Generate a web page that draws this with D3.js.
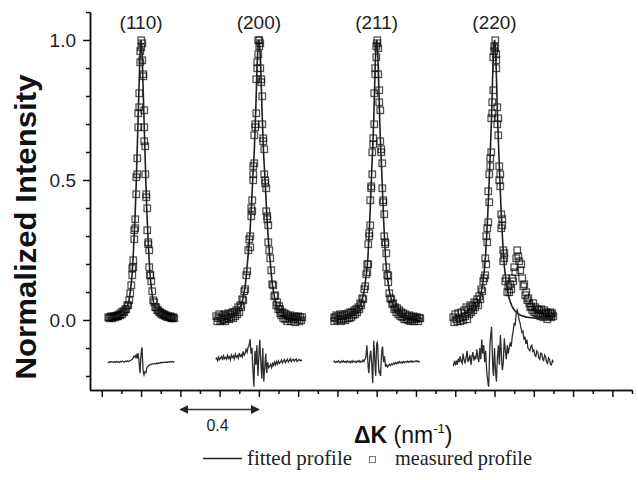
<!DOCTYPE html>
<html>
<head>
<meta charset="utf-8">
<script src="https://cdnjs.cloudflare.com/ajax/libs/d3/7.8.5/d3.min.js"></script>
<style>
body {margin:0; background:#fff;}
svg {display:block;}
</style>
</head>
<body>
<svg id="profiles"></svg>
<script>
var peakLabels = ["(110)","(200)","(211)","(220)"]
var peakCenters = [0.2, 0.8, 1.4, 2.0]

var yMajorTicks = [0, 0.5, 1.0]
var yMinorTicks = [-0.2,-0.1,0.1,0.2,0.3,0.4,0.6,0.7,0.8,0.9,1.1]
var xMajorTicks = [0,0.2,0.4,0.6,0.8,1.0,1.2,1.4,1.6,1.8,2.0,2.2,2.4,2.6]
var xMinorTicks = [0.1,0.3,0.5,0.7,0.9,1.1,1.3,1.5,1.7,1.9,2.1,2.3,2.5,2.7]

var scaleBar = [0.4, 0.8]

// offsets from each peak centre (nm^-1)
var dkCentre = [-0.05,-0.0475,-0.045,-0.0425,-0.04,-0.0375,-0.035,-0.0325,-0.03,-0.0275,-0.025,-0.0225,-0.02,-0.0175,
    -0.015,-0.0125,-0.01,-0.0075,-0.005,-0.0025,0,0.0025,0.005,0.0075,0.01,0.0125,0.015,0.0175,0.02,0.0225,0.025,
    0.0275,0.03,0.0325,0.035,0.0375,0.04,0.0425,0.045,0.0475,0.05]
var dkA = [-0.17,-0.165,-0.16,-0.155,-0.15,-0.145,-0.14,-0.135,-0.13,-0.125,-0.12,-0.115,-0.11,-0.105,-0.10,-0.095,
    -0.09,-0.085,-0.08,-0.075,-0.07,-0.065,-0.06,-0.055]
    .concat(dkCentre)
    .concat([0.055,0.06,0.065,0.07,0.075,0.08,0.085,0.09,0.095,0.10,0.105,0.11,0.115,0.12,0.125,0.13,0.135,0.14,0.145,0.15,
    0.155,0.16,0.165,0.17])
var dkB = [-0.22,-0.215,-0.21,-0.205,-0.20,-0.195,-0.19,-0.185,-0.18,-0.175,-0.17,-0.165,-0.16,-0.155,-0.15,-0.145,
    -0.14,-0.135,-0.13,-0.125,-0.12,-0.115,-0.11,-0.105,-0.10,-0.095,-0.09,-0.085,-0.08,-0.075,-0.07,-0.065,-0.06,-0.055]
    .concat(dkCentre)
    .concat([0.055,0.06,0.065,0.07,0.075,0.08,0.085,0.09,0.095,0.10,0.105,0.11,0.115,0.12,0.125,0.13,0.135,0.14,0.145,0.15,
    0.155,0.16,0.165,0.17,0.175,0.18,0.185,0.19,0.195,0.20,0.205,0.21,0.215,0.22])
var dkC = [-0.21,-0.205,-0.20,-0.195,-0.19,-0.185,-0.18,-0.175,-0.17,-0.165,-0.16,-0.155,-0.15,-0.145,-0.14,-0.135,
    -0.13,-0.125,-0.12,-0.115,-0.11,-0.105,-0.10,-0.095,-0.09,-0.085,-0.08,-0.075,-0.07,-0.065,-0.06,-0.055]
    .concat(dkCentre)
    .concat([0.055,0.06,0.065,0.07,0.075,0.08,0.085,0.09,0.095,0.10,0.105,0.11,0.115,0.12,0.125,0.13,0.135,0.14,0.145,0.15,
    0.155,0.16,0.165,0.17,
    0.175,0.18,0.185,0.19,0.195,0.20,0.205,0.21,0.215,0.22,0.225,0.23,0.235,0.24,0.245,0.25,0.255,0.26,0.265,0.27,
    0.275,0.28,0.285,0.29,0.295,0.30])

var meas110 = [.011,.006,.010,.013,.008,.012,.014,.010,.016,.013,.018,.015,.022,.019,.027,.023,.033,.029,.040,.038,.052,.055,.072,.095,
    .125,.160,.185,.190,.215,.290,.320,.330,.360,.450,.510,.520,.580,.690,.740,.760,.810,.920,.960,.975,1.0,
    .990,.930,.880,.870,.750,.690,.640,.620,.520,.450,.440,.400,.320,.280,.270,.250,.190,.160,.160,.140,
    .105,.070,.063,.047,.045,.034,.036,.027,.028,.021,.024,.017,.020,.014,.017,.011,.015,.010,.013,.008,.012,.007,.010,.006]
var fit110 = [.008,.008,.009,.010,.010,.011,.012,.013,.014,.015,.016,.018,.020,.022,.024,.026,.029,.033,.037,.043,.050,.060,.075,.10,
    .13,.15,.17,.20,.23,.265,.30,.34,.38,.43,.48,.54,.60,.66,.72,.78,.84,.90,.95,.985,1.0,
    .985,.95,.90,.84,.78,.72,.66,.60,.54,.48,.43,.38,.34,.30,.265,.23,.20,.17,.15,.13,
    .10,.075,.060,.050,.043,.037,.033,.029,.026,.024,.022,.020,.018,.016,.015,.014,.013,.012,.011,.010,.010,.009,.008,.008]
var res110 = [-.150,-.152,-.149,-.151,-.148,-.150,-.152,-.149,-.151,-.148,-.150,-.149,-.152,-.148,-.150,-.147,-.149,-.151,-.147,-.148,-.146,-.149,-.146,-.145,
    -.143,-.141,-.140,-.138,-.136,-.131,-.128,-.130,-.133,-.129,-.125,-.132,-.138,-.126,-.118,-.135,-.150,-.172,-.190,-.150,-.120,
    -.105,-.098,-.140,-.175,-.190,-.196,-.190,-.185,-.187,-.188,-.178,-.170,-.168,-.166,-.164,-.162,-.161,-.160,-.159,-.158,
    -.158,-.157,-.156,-.155,-.157,-.154,-.156,-.153,-.154,-.152,-.153,-.151,-.152,-.150,-.152,-.150,-.151,-.149,-.151,-.149,-.150,-.148,-.150,-.149]

var meas200 = [.015,-.005,.008,.020,-.002,.012,.000,.018,.004,.022,-.004,.015,.006,.025,.002,.020,.010,.030,.008,.028,.015,.035,.022,.045,.030,.055,.048,.075,.070,.105,.110,.160,.175,.250,
    .29,.26,.30,.37,.40,.39,.43,.50,.55,.52,.56,.66,.70,.69,.74,.86,.92,.90,.95,1.0,1.0,
    .98,.99,.90,.86,.85,.80,.70,.64,.65,.61,.52,.49,.50,.47,.39,.36,.37,.34,.28,.25,
    .22,.18,.13,.125,.085,.09,.055,.065,.040,.050,.025,.038,.018,.030,.008,.024,.004,.020,-.002,.015,.006,.018,-.004,.012,.002,.016,-.006,.010,.003,.014,-.003,.009,-.001,.012]
var fit200 = [.006,.006,.006,.007,.007,.008,.008,.009,.009,.010,.010,.011,.011,.012,.013,.014,.016,.017,.019,.021,.024,.027,.030,.035,.040,.047,.055,.067,.080,.10,.12,.15,.19,.23,
    .27,.295,.32,.35,.38,.415,.45,.485,.52,.55,.58,.62,.67,.72,.77,.83,.89,.935,.97,.99,1.0,
    .99,.97,.935,.89,.83,.77,.72,.67,.62,.58,.55,.52,.485,.45,.415,.38,.35,.32,.295,.27,
    .23,.19,.15,.12,.10,.080,.067,.055,.047,.040,.035,.030,.027,.024,.021,.019,.017,.016,.014,.013,.012,.011,.011,.010,.010,.009,.009,.008,.008,.007,.007,.006,.006,.006]
var res200 = [-.140,-.136,-.145,-.132,-.141,-.135,-.130,-.143,-.128,-.138,-.133,-.140,-.126,-.137,-.131,-.142,-.125,-.134,-.128,-.139,-.122,-.133,-.127,-.136,-.118,-.130,-.124,-.132,-.112,-.126,-.118,-.105,-.115,-.098,
    -.090,-.080,-.068,-.095,-.120,-.110,-.100,-.150,-.180,-.215,-.238,-.160,-.110,-.140,-.160,-.120,-.090,-.150,-.200,-.165,-.130,
    -.095,-.071,-.120,-.150,-.185,-.210,-.150,-.100,-.170,-.220,-.190,-.170,-.140,-.120,-.160,-.190,-.165,-.150,-.162,-.170,
    -.165,-.158,-.170,-.155,-.162,-.150,-.160,-.148,-.157,-.146,-.155,-.150,-.143,-.153,-.147,-.141,-.152,-.146,-.140,-.150,-.144,-.138,-.149,-.143,-.140,-.147,-.142,-.139,-.148,-.144,-.141,-.146,-.143,-.145]

var meas211 = [.012,-.004,.008,.018,.000,.014,.002,.020,-.003,.016,.005,.022,.000,.019,.008,.025,.006,.028,.012,.030,.018,.034,.022,.040,.028,.048,.040,.060,.052,.080,.075,.110,.120,.165,
    .20,.17,.20,.27,.31,.30,.34,.43,.48,.47,.52,.60,.65,.63,.70,.81,.88,.90,.94,.98,1.0,
    .99,.97,.88,.82,.78,.75,.64,.60,.61,.56,.47,.42,.43,.38,.30,.27,.28,.24,.19,.16,
    .160,.135,.095,.080,.075,.058,.062,.040,.048,.030,.042,.022,.035,.015,.028,.010,.024,.005,.020,.002,.015,.000,.017,-.003,.012,.004,.014,-.002,.010,.005,.011,-.003,.008,.006]
var fit211 = [.006,.006,.006,.007,.007,.008,.008,.009,.009,.010,.010,.011,.011,.012,.013,.014,.015,.016,.018,.020,.022,.025,.028,.031,.035,.040,.045,.052,.060,.072,.085,.10,.125,.15,
    .18,.20,.22,.255,.29,.325,.36,.405,.45,.495,.54,.58,.62,.67,.72,.785,.85,.91,.96,.99,1.0,
    .99,.96,.91,.85,.785,.72,.67,.62,.58,.54,.495,.45,.405,.36,.325,.29,.255,.22,.20,.18,
    .15,.125,.10,.085,.072,.060,.052,.045,.040,.035,.031,.028,.025,.022,.020,.018,.016,.015,.014,.013,.012,.011,.011,.010,.010,.009,.009,.008,.008,.007,.007,.006,.006,.006]
var res211 = [-.150,-.147,-.152,-.148,-.151,-.146,-.150,-.153,-.147,-.150,-.145,-.151,-.148,-.152,-.146,-.150,-.148,-.153,-.147,-.151,-.145,-.150,-.148,-.152,-.146,-.149,-.145,-.151,-.147,-.150,-.143,-.148,-.140,-.132,
    -.090,-.120,-.150,-.175,-.190,-.160,-.130,-.115,-.110,-.140,-.160,-.200,-.226,-.140,-.074,-.100,-.140,-.175,-.200,-.130,-.085,
    -.080,-.090,-.140,-.170,-.190,-.180,-.195,-.200,-.150,-.120,-.100,-.095,-.130,-.150,-.140,-.130,-.150,-.167,-.162,-.160,
    -.168,-.163,-.158,-.162,-.157,-.160,-.154,-.158,-.152,-.156,-.151,-.155,-.149,-.153,-.150,-.154,-.148,-.152,-.149,-.151,-.147,-.152,-.148,-.150,-.146,-.151,-.147,-.150,-.148,-.145,-.149,-.146,-.150,-.148]

var meas220 = [.010,-.008,.020,.002,-.005,.025,.008,-.002,.030,.012,.000,.035,.015,.045,.005,.040,.020,.055,.030,.050,.035,.065,.045,.060,.075,.055,.085,.075,.110,.105,.140,.150,
    .22,.16,.20,.30,.33,.28,.35,.46,.42,.52,.58,.55,.60,.72,.78,.74,.82,.94,.98,.96,1.0,
    .97,.93,.95,.90,.76,.70,.72,.66,.55,.50,.52,.48,.38,.33,.36,.34,.25,.21,.24,.22,
    .14,.15,.10,.12,.10,.13,.11,.15,.14,.19,.17,.22,.25,.23,.21,.18,.20,.15,.12,.13,.09,.10,.07,.08,
    .06,.045,.05,.035,.06,.03,.045,.025,.04,.02,.035,.015,.04,.025,.01,.035,.02,.03,.005,.025,.015,.03,.01,.02,.025,.015]
var fit220 = [.006,.006,.007,.007,.008,.008,.009,.009,.010,.010,.011,.012,.013,.014,.015,.016,.018,.020,.022,.025,.028,.032,.036,.042,.048,.056,.065,.077,.090,.11,.13,.16,
    .19,.215,.24,.27,.30,.335,.37,.41,.45,.495,.54,.585,.63,.68,.73,.795,.86,.915,.96,.99,1.0,
    .99,.96,.915,.86,.795,.73,.68,.63,.585,.54,.495,.45,.41,.37,.335,.30,.27,.24,.215,.19,
    .16,.13,.11,.09,.077,.065,.056,.048,.042,.036,.032,.028,.025,.022,.020,.018,.016,.015,.014,.013,.012,.011,.010,.010,
    .009,.009,.008,.008,.007,.007,.006,.006,.006,.005,.005,.005,.005,.005,.004,.004,.004,.004,.004,.004,.004,.004,.004,.004,.004,.004]
var res220 = [-.165,-.150,-.158,-.145,-.160,-.138,-.150,-.130,-.148,-.155,-.120,-.142,-.155,-.135,-.110,-.150,-.140,-.125,-.160,-.130,-.115,-.145,-.128,-.140,-.105,-.135,-.150,-.100,-.140,-.070,-.120,-.090,
    -.150,-.125,-.110,-.150,-.180,-.200,-.214,-.230,-.238,-.180,-.120,-.080,-.060,-.040,-.024,-.090,-.150,-.185,-.200,-.140,-.100,
    -.150,-.180,-.205,-.220,-.170,-.130,-.110,-.090,-.130,-.160,-.100,-.054,-.085,-.120,-.160,-.179,-.165,-.150,-.100,-.065,
    -.110,-.140,-.090,-.120,-.100,-.080,-.095,-.060,-.040,-.010,-.020,.020,.036,.025,.000,-.010,-.030,-.045,-.040,-.070,-.060,-.085,-.070,-.100,
    -.105,-.110,-.095,-.090,-.112,-.107,-.125,-.130,-.110,-.115,-.135,-.140,-.118,-.120,-.140,-.145,-.125,-.130,-.150,-.155,-.135,-.140,-.158,-.160,-.145,-.150]

var peaks = [
    {label:peakLabels[0], center:peakCenters[0], dk:dkA, meas:meas110, fit:fit110, res:res110},
    {label:peakLabels[1], center:peakCenters[1], dk:dkB, meas:meas200, fit:fit200, res:res200},
    {label:peakLabels[2], center:peakCenters[2], dk:dkB, meas:meas211, fit:fit211, res:res211},
    {label:peakLabels[3], center:peakCenters[3], dk:dkC, meas:meas220, fit:fit220, res:res220}
]

var toPoints = function(peak, values)
{
    return peak.dk.map(function(d, i)
    {
        return {x: peak.center + d, y: values[i]}
    })
}

var drawAxes = function(svg, xScale, yScale, margins, screen)
{
    var yMajor = d3.axisLeft(yScale)
        .tickValues(yMajorTicks)
        .tickFormat(d3.format(".1f"))
        .tickSize(7)
        .tickSizeOuter(0)
        .tickPadding(7)
    var yMinor = d3.axisLeft(yScale)
        .tickValues(yMinorTicks)
        .tickFormat("")
        .tickSize(4)
        .tickSizeOuter(0)
    var xMajor = d3.axisBottom(xScale)
        .tickValues(xMajorTicks)
        .tickFormat("")
        .tickSize(7)
        .tickSizeOuter(0)
    var xMinor = d3.axisBottom(xScale)
        .tickValues(xMinorTicks)
        .tickFormat("")
        .tickSize(4)
        .tickSizeOuter(0)

    var bottom = screen.height - margins.bottom

    svg.append("g")
        .attr("transform","translate("+margins.left+",0)")
        .call(yMinor)
    svg.append("g")
        .attr("transform","translate("+margins.left+",0)")
        .call(yMajor)
    svg.append("g")
        .attr("transform","translate(0,"+bottom+")")
        .call(xMinor)
    svg.append("g")
        .attr("transform","translate(0,"+bottom+")")
        .call(xMajor)

    svg.selectAll(".domain, .tick line")
        .attr("stroke","#111")
        .attr("stroke-width",1.5)
    svg.selectAll(".tick text")
        .attr("fill","#222")
        .style("font-family","'Liberation Sans', Arial, sans-serif")
        .style("font-size","19px")
}

var drawPeaks = function(svg, xScale, yScale)
{
    var line = d3.line()
        .x(function(p) {return xScale(p.x)})
        .y(function(p) {return yScale(p.y)})

    var groups = svg.append("g")
        .selectAll("g")
        .data(peaks)
        .enter()
        .append("g")

    groups.append("g")
        .selectAll("rect")
        .data(function(peak) {return toPoints(peak, peak.meas)})
        .enter()
        .append("rect")
        .attr("x", function(p) {return Math.round(xScale(p.x)) - 3})
        .attr("y", function(p) {return Math.round(yScale(p.y)) - 3})
        .attr("width",6.5)
        .attr("height",6.5)
        .attr("fill","none")
        .attr("stroke","#000")
        .attr("stroke-opacity",0.68)
        .attr("stroke-width",1.3)

    groups.append("path")
        .datum(function(peak) {return toPoints(peak, peak.fit)})
        .attr("d", line)
        .attr("fill","none")
        .attr("stroke","#1e1e1e")
        .attr("stroke-width",1.6)

    groups.append("path")
        .datum(function(peak) {return toPoints(peak, peak.res)})
        .attr("d", line)
        .attr("fill","none")
        .attr("stroke","#2e2e2e")
        .attr("stroke-width",1.3)

    groups.append("text")
        .attr("x", function(peak) {return xScale(peak.center)})
        .attr("y", 29)
        .attr("text-anchor","middle")
        .style("font-family","'Liberation Sans', Arial, sans-serif")
        .style("font-size","19px")
        .attr("fill","#222")
        .text(function(peak) {return peak.label})
}

var drawLabels = function(svg, xScale)
{
    svg.append("text")
        .attr("transform","translate(36,227) rotate(-90)")
        .attr("text-anchor","middle")
        .attr("textLength",305)
        .attr("lengthAdjust","spacingAndGlyphs")
        .style("font-family","'Liberation Sans', Arial, sans-serif")
        .style("font-size","30px")
        .style("font-weight","bold")
        .attr("fill","#111")
        .text("Normalized Intensity")

    var title = svg.append("text")
        .attr("x",354)
        .attr("y",443)
        .style("font-family","'Liberation Sans', Arial, sans-serif")
        .style("font-size","23px")
        .attr("fill","#111")
    title.append("tspan").style("font-weight","bold").text("\u0394K")
    title.append("tspan").text(" (nm")
    title.append("tspan").attr("dy",-10).style("font-size","13px").text("-1")
    title.append("tspan").attr("dy",10).text(")")

    // scale bar
    var defs = svg.append("defs")
    defs.append("marker")
        .attr("id","arrow")
        .attr("viewBox","0 0 10 10")
        .attr("refX",9)
        .attr("refY",5)
        .attr("markerWidth",9)
        .attr("markerHeight",9)
        .attr("markerUnits","userSpaceOnUse")
        .attr("orient","auto-start-reverse")
        .append("path")
        .attr("d","M0,0 L10,5 L0,10 z")
        .attr("fill","#222")

    svg.append("line")
        .attr("x1", xScale(scaleBar[0]))
        .attr("x2", xScale(scaleBar[1]))
        .attr("y1",409.5)
        .attr("y2",409.5)
        .attr("stroke","#333")
        .attr("stroke-width",1.5)
        .attr("marker-start","url(#arrow)")
        .attr("marker-end","url(#arrow)")

    svg.append("text")
        .attr("x", (xScale(scaleBar[0]) + xScale(scaleBar[1]))/2 - 2)
        .attr("y",431)
        .attr("text-anchor","middle")
        .style("font-family","'Liberation Sans', Arial, sans-serif")
        .style("font-size","16px")
        .attr("fill","#222")
        .text(scaleBar[1] - scaleBar[0])

    // legend
    var legend = svg.append("g")
    legend.append("line")
        .attr("x1",203).attr("x2",242)
        .attr("y1",458.5).attr("y2",458.5)
        .attr("stroke","#222")
        .attr("stroke-width",1.5)
    legend.append("text")
        .attr("x",247).attr("y",465)
        .attr("textLength",105)
        .attr("lengthAdjust","spacingAndGlyphs")
        .style("font-family","'Liberation Serif', 'Times New Roman', serif")
        .style("font-size","21px")
        .attr("fill","#222")
        .text("fitted profile")
    legend.append("rect")
        .attr("x",369.5).attr("y",456.5)
        .attr("width",6).attr("height",6)
        .attr("fill","none")
        .attr("stroke","#777")
        .attr("stroke-width",1)
    legend.append("text")
        .attr("x",395).attr("y",465)
        .attr("textLength",137)
        .attr("lengthAdjust","spacingAndGlyphs")
        .style("font-family","'Liberation Serif', 'Times New Roman', serif")
        .style("font-size","21px")
        .attr("fill","#222")
        .text("measured profile")
}

var displayProfiles = function(target)
{
    var screen = {width:638, height:480}
    var margins = {top:12, bottom:90, left:90, right:6}

    var svg = d3.select(target)
        .attr("width",screen.width)
        .attr("height",screen.height)

    var xScale = d3.scaleLinear()
        .domain([-0.06, 2.7])
        .range([margins.left, screen.width - margins.right])

    var yScale = d3.scaleLinear()
        .domain([-0.25, 1.1])
        .range([screen.height - margins.bottom, margins.top])

    drawPeaks(svg, xScale, yScale)
    drawAxes(svg, xScale, yScale, margins, screen)
    drawLabels(svg, xScale)
}

displayProfiles("#profiles")
</script>
</body>
</html>
